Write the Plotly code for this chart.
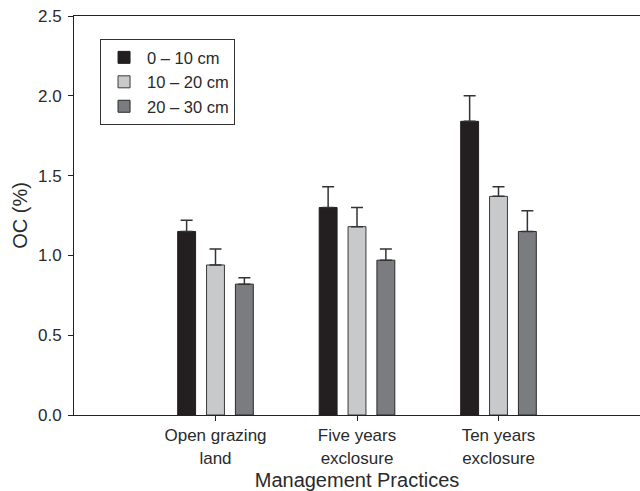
import plotly.graph_objects as go

categories = ["Open grazing<br>land", "Five years<br>exclosure", "Ten years<br>exclosure"]
series_names = ["0 – 10 cm", "10 – 20 cm", "20 – 30 cm"]
values_0_10 = [1.15, 1.30, 1.84]
values_10_20 = [0.94, 1.18, 1.37]
values_20_30 = [0.82, 0.97, 1.15]
err_0_10 = [0.07, 0.13, 0.16]
err_10_20 = [0.10, 0.12, 0.06]
err_20_30 = [0.04, 0.07, 0.13]
y_ticks = [0.0, 0.5, 1.0, 1.5, 2.0, 2.5]

colors = ["#231f20", "#c8c9cb", "#7b7c80"]
line_colors = ["#231f20", "#3a3a3a", "#2a2a2a"]
vals = [values_0_10, values_10_20, values_20_30]
errs = [err_0_10, err_10_20, err_20_30]

fig = go.Figure()
for name, v, e, c, lc in zip(series_names, vals, errs, colors, line_colors):
    fig.add_trace(go.Bar(
        x=list(range(len(categories))), y=v, name=name,
        marker=dict(color=c, line=dict(color=lc, width=1)),
        error_y=dict(type="data", array=e, symmetric=False, arrayminus=[0]*len(e),
                     color="#333333", thickness=1.5, width=6),
    ))

fig.update_layout(
    barmode="group", bargap=0.388, bargroupgap=0.38,
    width=640, height=491,
    margin=dict(l=74, r=0, t=16, b=76),
    paper_bgcolor="white", plot_bgcolor="white",
    font=dict(family="Liberation Sans, Arial, sans-serif", size=17, color="#2a2a2a"),
    showlegend=True,
    legend=dict(x=0.046, y=0.942, xanchor="left", yanchor="top",
                bordercolor="#333333", borderwidth=1, bgcolor="white",
                font=dict(size=16.5), itemwidth=36, tracegroupgap=0,
                traceorder="normal"),
    xaxis=dict(range=[-1, 3], tickmode="array", tickvals=list(range(len(categories))),
               ticktext=categories, showline=True, linecolor="#222222", linewidth=1,
               mirror=True, ticks="outside", ticklen=5, tickcolor="#222222",
               showgrid=False, zeroline=False, tickfont=dict(size=17),
               title=dict(text="Management Practices", font=dict(size=20), standoff=8)),
    yaxis=dict(range=[0, 2.5], tickmode="array", tickvals=y_ticks,
               ticktext=[f"{t:.1f}" for t in y_ticks],
               showline=True, linecolor="#222222", linewidth=1,
               ticks="outside", ticklen=5, tickcolor="#222222",
               ticklabelstandoff=3,
               showgrid=False, zeroline=False, tickfont=dict(size=17),
               title=dict(text="OC (%)", font=dict(size=20), standoff=4)),
)

fig.write_html("out.html")
